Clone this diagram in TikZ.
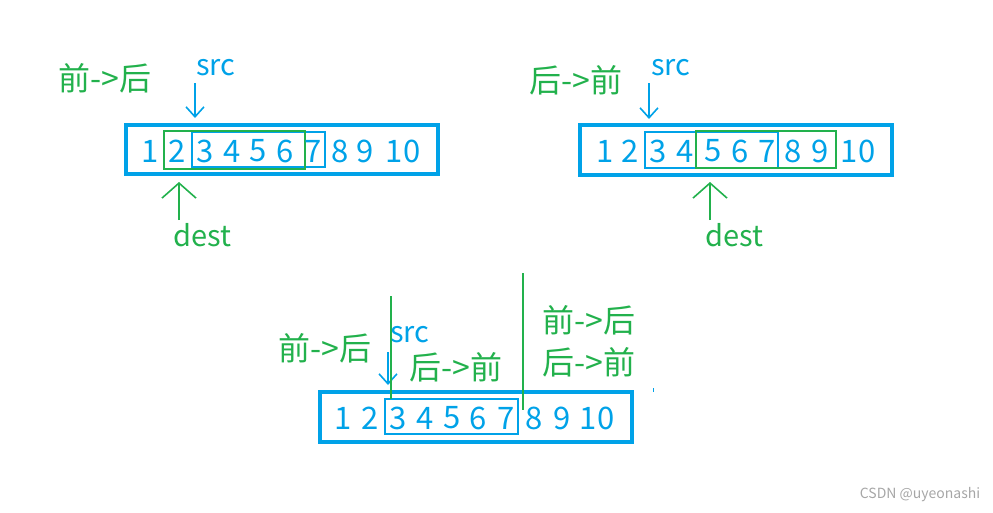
\documentclass[tikz,border=0pt]{standalone}
\usepackage{fontspec}
\setmainfont{Noto Sans CJK SC}
\usetikzlibrary{arrows.meta}
\definecolor{paintblue}{RGB}{0,162,232}
\definecolor{paintgreen}{RGB}{34,177,76}

\begin{document}
\begin{tikzpicture}[x=1pt,y=-1pt,
    num/.style={text=paintblue,font=\fontsize{31}{36}\selectfont,inner sep=0pt},
    lbl/.style={font=\fontsize{29}{34}\selectfont,inner sep=0pt},
    dirlbl/.style={text=paintgreen,font=\fontsize{32}{38}\selectfont,inner sep=0pt},
    outerbox/.style={draw=paintblue,line width=3.5pt},
    bluebox/.style={draw=paintblue,line width=2.8pt},
    greenbox/.style={draw=paintgreen,line width=2.8pt},
    srcarrow/.style={draw=paintblue,line width=1.6pt,-{Straight Barb[length=10pt,width=18pt]}},
    destarrow/.style={draw=paintgreen,line width=1.6pt,-{Straight Barb[length=15pt,width=34pt]}},
    split/.style={draw=paintgreen,line width=2pt}]
    \useasboundingbox (0,0) rectangle (993,512);

    % Front to back
    \draw[outerbox] (126,125) rectangle (438,174);
    \draw[bluebox] (192,132) rectangle (325,167);
    \draw[greenbox] (164,131) rectangle (305,169);
    \foreach \x [count=\i] in {150,177,205,232,258,285,313,340,365,403}
        \node[num] (a\i) at (\x,151) {\i};
    \node[dirlbl] (dirA) at (105,78) {前->后};
    \node[lbl,text=paintblue] (srcA) at (216,68) {src};
    \node[lbl,text=paintgreen] (destA) at (202,235) {dest};
    \draw[srcarrow] (195,83) -- (195,118);
    \draw[destarrow] (179,220) -- (179,182);

    % Back to front
    \draw[outerbox] (580,125) rectangle (892,175);
    \draw[bluebox] (645,132) rectangle (778,168);
    \draw[greenbox] (696,131) rectangle (836,168);
    \foreach \x [count=\i] in {605,630,658,685,713,740,767,793,820,858}
        \node[num] (b\i) at (\x,151) {\i};
    \node[dirlbl] (dirB) at (576,80) {后->前};
    \node[lbl,text=paintblue] (srcB) at (671,68) {src};
    \node[lbl,text=paintgreen] (destB) at (734,235) {dest};
    \draw[srcarrow] (649,83) -- (649,119);
    \draw[destarrow] (710,220) -- (710,182);

    % Three regions
    \draw[outerbox] (320,392) rectangle (632,442);
    \draw[bluebox] (385,399) rectangle (518,434);
    \foreach \x [count=\i] in {343,370,398,425,452,478,506,534,562,597}
        \node[num] (c\i) at (\x,418) {\i};
    \node[lbl,text=paintblue] (srcC) at (410,335) {src};
    \draw[srcarrow] (388,352) -- (388,385);
    \draw[split] (391,296) -- (391,399);
    \draw[split] (523,273) -- (523,410);
    \node[dirlbl] (dirC1) at (325,348) {前->后};
    \node[dirlbl] (dirC2) at (456,367) {后->前};
    \node[dirlbl] (dirC3) at (589,320) {前->后};
    \node[dirlbl] (dirC4) at (589,362) {后->前};
    \draw[paintblue,line width=1pt] (653,388) -- (653,392);

    \node[font=\fontsize{14}{16}\selectfont,text=gray!70] (mark) at (920,495) {CSDN @uyeonashi};
\end{tikzpicture}
\end{document}
